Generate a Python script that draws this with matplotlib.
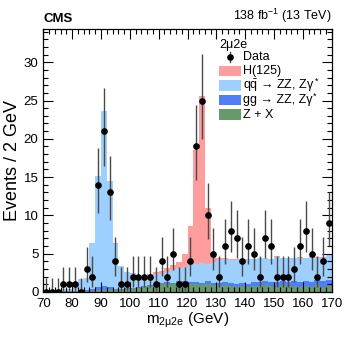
import math
import numpy as np
import matplotlib
matplotlib.use("Agg")
import matplotlib.pyplot as plt
from matplotlib.patches import Rectangle
from matplotlib.lines import Line2D
from matplotlib.ticker import MultipleLocator

plt.rcParams['font.family'] = ['Liberation Sans', 'DejaVu Sans']
plt.rcParams['mathtext.fontset'] = 'custom'
plt.rcParams['mathtext.rm'] = 'Liberation Sans'
plt.rcParams['mathtext.it'] = 'Liberation Sans:italic'

# ---- data ----
bin_edges = np.arange(70, 172, 2)
data_counts = [0, 0, 0, 1, 1, 1, 0, 3, 2, 14,
               21, 13, 4, 1, 1, 2, 2, 2, 2, 1,
               4, 2, 5, 1, 1, 4, 19, 25, 10, 5,
               2, 6, 8, 7, 4, 6, 5, 2, 7, 6,
               2, 2, 2, 3, 6, 8, 5, 2, 4, 9]

zx = [0.05, 0.05, 0.05, 0.08, 0.08, 0.1, 0.1, 0.15, 0.15, 0.2,
      0.3, 0.35, 0.3, 0.35, 0.4, 0.45, 0.5, 0.7, 0.8, 0.8,
      1.0, 1.1, 1.0, 1.3, 1.2, 1.1, 1.0, 0.9, 1.1, 0.9,
      0.8, 0.9, 0.8, 0.7, 0.8, 0.7, 0.8, 0.8, 0.9, 0.8,
      0.7, 0.9, 0.8, 0.8, 0.7, 0.8, 0.7, 0.9, 0.7, 0.8]

gg_zz = [0.05, 0.05, 0.05, 0.05, 0.05, 0.05, 0.05, 0.1, 0.2, 0.4,
         0.5, 0.3, 0.15, 0.1, 0.1, 0.1, 0.1, 0.1, 0.1, 0.1,
         0.15, 0.15, 0.2, 0.2, 0.2, 0.25, 0.3, 0.3, 0.3, 0.3,
         0.35, 0.35, 0.4, 0.4, 0.4, 0.4, 0.45, 0.45, 0.5, 0.5,
         0.6, 0.5, 0.55, 0.6, 0.6, 0.65, 0.65, 0.7, 0.7, 0.75]

qq_zz = [0.2, 0.2, 0.25, 0.27, 0.32, 0.45, 1.55, 1.55, 6.05, 14.5,
         22.8, 13.85, 5.85, 2.95, 2.1, 1.95, 1.6, 1.3, 1.2, 1.4,
         1.25, 1.35, 1.7, 1.6, 1.9, 2.15, 2.4, 2.6, 2.2, 2.7,
         3.05, 3.05, 3.0, 3.1, 3.1, 3.2, 3.05, 3.15, 3.0, 3.0,
         3.3, 3.0, 3.05, 3.0, 3.2, 2.95, 3.25, 2.9, 3.1, 3.25]

higgs = [0.0, 0.0, 0.0, 0.0, 0.0, 0.0, 0.0, 0.0, 0.0, 0.0,
         0.0, 0.0, 0.1, 0.0, 0.0, 0.0, 0.0, 0.0, 0.2, 0.3,
         0.4, 0.5, 0.6, 0.8, 1.6, 5.1, 14.9, 21.8, 7.4, 1.0,
         0.2, 0.1, 0.05, 0.05, 0.05, 0.05, 0.05, 0.05, 0.05, 0.05,
         0.05, 0.05, 0.05, 0.05, 0.05, 0.05, 0.05, 0.05, 0.05, 0.05]

legend_title = '2\u03bc2e'
legend_labels = ['Data', 'H(125)',
                 'q$\\mathregular{\\bar{q}}$ \u2192 ZZ, Z\u03b3',
                 'gg \u2192 ZZ, Z\u03b3',
                 'Z + X']
legend_sup = ['', '', '*', '*', '']
colors = {'zx': '#67996a', 'gg': '#4f7ef8', 'qq': '#9dcfff', 'h': '#ff9c9c'}


def pois_cdf(k, mu):
    if k < 0:
        return 0.0
    s = 0.0
    for i in range(k + 1):
        s += math.exp(-mu + i * math.log(mu) - math.lgamma(i + 1))
    return s


def solve(f, target, lo, hi):
    for _ in range(80):
        mid = 0.5 * (lo + hi)
        if f(mid) > target:
            lo = mid
        else:
            hi = mid
    return 0.5 * (lo + hi)


alpha = 0.1587
lo_err, hi_err = [], []
for n in data_counts:
    up = solve(lambda m: pois_cdf(n, m), alpha, 1e-9, n + 20 + 6 * math.sqrt(n + 1))
    low = 0.0 if n == 0 else solve(lambda m: pois_cdf(n - 1, m), 1 - alpha, 1e-9, n + 5)
    lo_err.append(n - low)
    hi_err.append(up - n)

centers = 0.5 * (bin_edges[:-1] + bin_edges[1:])

W, H = 349, 338
fig = plt.figure(figsize=(W / 100, H / 100), dpi=100)
ax = fig.add_axes([43.3 / W, 1 - 292 / H, 288.4 / W, 263.5 / H])

ax.hist([centers] * 4, bins=bin_edges, weights=[zx, gg_zz, qq_zz, higgs],
        stacked=True, histtype='stepfilled',
        color=[colors['zx'], colors['gg'], colors['qq'], colors['h']], linewidth=0)

ax.errorbar(centers, data_counts, yerr=[lo_err, hi_err], fmt='o', color='black',
            ecolor='#4a4a4a', elinewidth=1.0, markersize=3.8, capsize=0, zorder=5)

ax.set_xlim(70, 170)
ax.set_ylim(0, 34.4)
ax.xaxis.set_major_locator(MultipleLocator(10))
ax.xaxis.set_minor_locator(MultipleLocator(2))
ax.yaxis.set_major_locator(MultipleLocator(5))
ax.yaxis.set_minor_locator(MultipleLocator(1))
ax.tick_params(which='both', direction='in', top=True, right=True, labelsize=9.5, width=0.8)
ax.tick_params(which='major', length=7)
ax.tick_params(which='minor', length=3.5)
ax.tick_params(axis='x', pad=4)
for s in ax.spines.values():
    s.set_linewidth(0.9)

ax.set_xlabel(r'm$_{\mathregular{2\mu 2e}}$ (GeV)', fontsize=11, labelpad=1)
ax.set_ylabel('Events / 2 GeV', fontsize=13, labelpad=2)

ax.text(0.0, 1.015, 'CMS', transform=ax.transAxes, fontsize=9.5, fontweight='bold',
        ha='left', va='bottom')
ax.text(1.0, 1.015, r'138 fb$^{\mathregular{-1}}$ (13 TeV)', transform=ax.transAxes,
        fontsize=9, ha='right', va='bottom')


# ---- manual legend (pixel layout) ----
def fx(x):
    return x / W


def fy(y):
    return 1 - y / H


fig.text(fx(219), fy(45), legend_title, fontsize=9, ha='left', va='center')
fig.add_artist(Line2D([fx(230), fx(230)], [fy(52), fy(62)], color='#4a4a4a', lw=1.0))
fig.add_artist(Line2D([fx(230)], [fy(57)], marker='o', color='black', markersize=3.8))
fig.text(fx(243), fy(57), legend_labels[0], fontsize=9, ha='left', va='center')
patch_cols = [colors['h'], colors['qq'], colors['gg'], colors['zx']]
ys = [71, 85.5, 100, 114.5]
renderer = fig.canvas.get_renderer()
for c, yc, lab, sup in zip(patch_cols, ys, legend_labels[1:], legend_sup[1:]):
    fig.add_artist(Rectangle((fx(219), fy(yc + 5)), 22 / W, 10 / H, color=c,
                             transform=fig.transFigure, lw=0))
    t = fig.text(fx(243), fy(yc), lab, fontsize=9, ha='left', va='center')
    if sup:
        bb = t.get_window_extent(renderer=renderer)
        fig.text((bb.x1 + 0.6) / W, fy(yc - 4), sup, fontsize=6.5,
                 ha='left', va='center')

fig.savefig('out.png', dpi=100)
